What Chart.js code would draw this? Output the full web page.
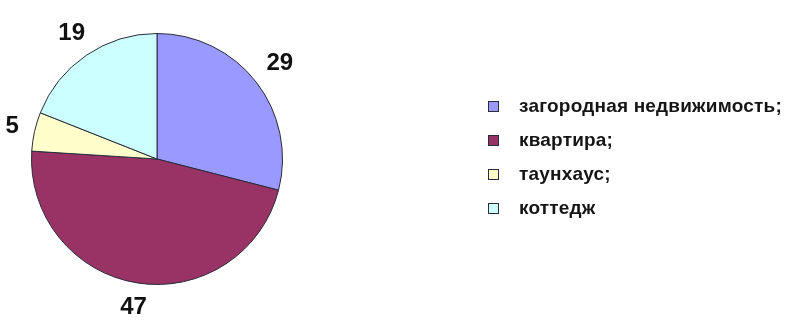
<!DOCTYPE html>
<html>
<head>
<meta charset="utf-8">
<script src="https://cdn.jsdelivr.net/npm/chart.js@4"></script>
<style>
  html, body { margin: 0; padding: 0; background: #fff; }
  #wrap { position: relative; width: 804px; height: 320px; }
  #legend {
    position: absolute; left: 488px; top: 89px; margin: 0; padding: 0; list-style: none;
    font: bold 19px "Liberation Sans", Arial, sans-serif; letter-spacing: 0.2px; color: #151515;
  }
  #legend li { height: 34px; display: flex; align-items: center; }
  #legend span.box {
    width: 9px; height: 9px; border: 1px solid #2b2b3a; margin-right: 20px; display: inline-block;
  }
</style>
</head>
<body>
<div id="wrap">
  <canvas id="pie" width="804" height="320"></canvas>
  <ul id="legend"></ul>
</div>
<script>
// share of each property type, per cent
const categories = ["загородная недвижимость;", "квартира;", "таунхаус;", "коттедж"];
const shares = [29, 47, 5, 19];
const colors = ["#9999ff", "#993366", "#ffffcc", "#ccffff"];

// numbers written just outside the rim of each slice; the gap is measured
// from the rim to the nearest edge of the text box
const sliceLabels = {
  id: "sliceLabels",
  afterDatasetsDraw(chart) {
    const ctx = chart.ctx;
    const ds = chart.data.datasets[0];
    const gap = 16, halfH = 8.5;
    ctx.save();
    ctx.font = "bold 24px 'Liberation Sans', Arial, sans-serif";
    ctx.fillStyle = "#111";
    ctx.textAlign = "center";
    ctx.textBaseline = "middle";
    chart.getDatasetMeta(0).data.forEach((arc, i) => {
      const text = String(ds.data[i]);
      const halfW = ctx.measureText(text).width / 2;
      const mid = (arc.startAngle + arc.endAngle) / 2;
      const cx = Math.cos(mid), cy = Math.sin(mid);
      const reach = Math.min(halfW / Math.max(Math.abs(cx), 1e-6), halfH / Math.max(Math.abs(cy), 1e-6));
      const r = arc.outerRadius + gap + reach;
      ctx.fillText(text, arc.x + cx * r, arc.y + cy * r);
    });
    ctx.restore();
  }
};

new Chart(document.getElementById("pie"), {
  type: "pie",
  data: {
    labels: categories,
    datasets: [{
      data: shares,
      backgroundColor: colors,
      borderColor: "#2b2b3a",
      borderWidth: 1,
      hoverBorderWidth: 1,
      hoverOffset: 0
    }]
  },
  options: {
    responsive: false,
    animation: false,
    events: [],
    layout: { padding: { left: 31, right: 521, top: 32, bottom: 34 } },
    plugins: {
      legend: { display: false },
      tooltip: { enabled: false }
    }
  },
  plugins: [sliceLabels]
});

// legend on the right
const legend = document.getElementById("legend");
categories.forEach((name, i) => {
  const li = document.createElement("li");
  const box = document.createElement("span");
  box.className = "box";
  box.style.background = colors[i];
  li.appendChild(box);
  li.appendChild(document.createTextNode(name));
  legend.appendChild(li);
});
</script>
</body>
</html>
